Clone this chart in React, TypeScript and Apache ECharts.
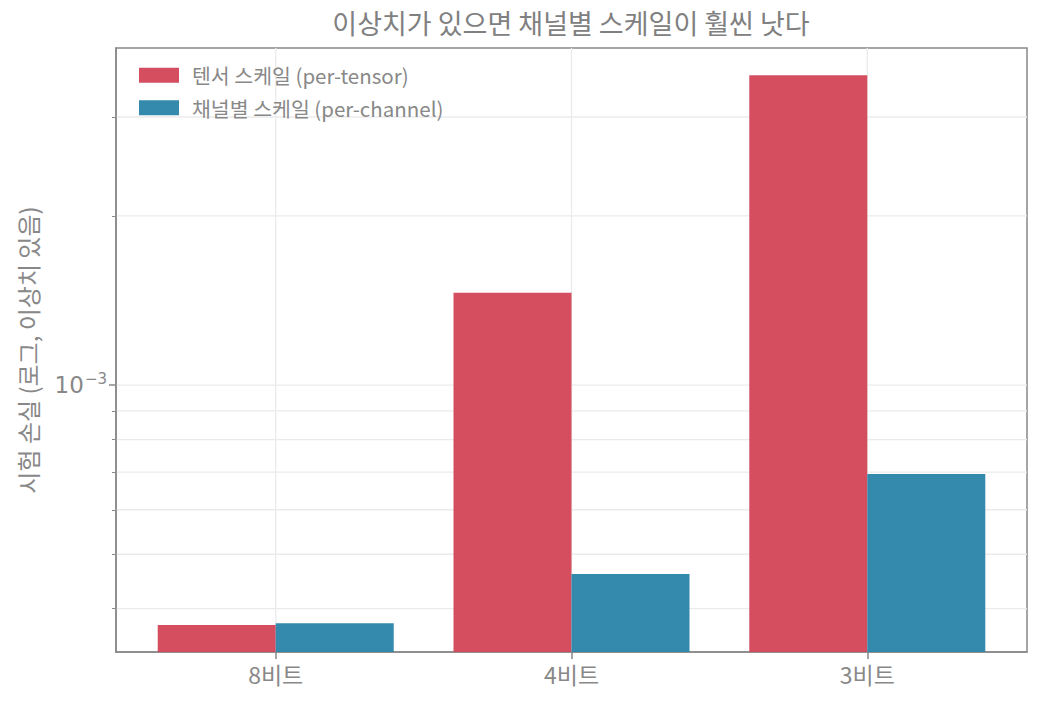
import { useEffect, useRef } from "react";
import * as echarts from "echarts";

const categories = ["8비트", "4비트", "3비트"];
const categoryPos = [0, 1, 2];
const perTensor = [3.74e-4, 1.46e-3, 3.56e-3];
const perChannel = [3.77e-4, 4.61e-4, 6.95e-4];
const seriesNames = ["텐서 스케일 (per-tensor)", "채널별 스케일 (per-channel)"];
const majorTicks = [1e-3];
const minorTicks = [4e-4, 5e-4, 6e-4, 7e-4, 8e-4, 9e-4, 2e-3, 3e-3];
const yMin = 3.35e-4;
const yMax = 3.98e-3;
const xMin = -0.54;
const xMax = 2.54;

const FONT = "'Noto Sans CJK KR', 'DejaVu Sans', sans-serif";
const GRAY = "#888888";
const GRID = "#ebebeb";

export default function App() {
  const chartRef = useRef<HTMLDivElement>(null);

  useEffect(() => {
    if (!chartRef.current) return;
    const chart = echarts.init(chartRef.current, null, { renderer: "svg" });

    const yAxisBase = {
      type: "log",
      logBase: 10,
      min: yMin,
      max: yMax,
      startValue: yMin,
      splitLine: { show: false },
      minorSplitLine: { show: false }
    };

    const option = {
      animation: false,
      textStyle: { fontFamily: FONT },
      graphic: [
        {
          type: "text",
          x: 571,
          y: 9,
          style: {
            text: "이상치가 있으면 채널별 스케일이 훨씬 낫다",
            fill: "#808080",
            fontSize: 27,
            fontFamily: FONT,
            textAlign: "center"
          }
        }
      ],
      legend: {
        left: 134,
        top: 60,
        orient: "vertical",
        icon: "rect",
        itemWidth: 40,
        itemHeight: 15,
        itemGap: 12,
        textStyle: { color: GRAY, fontSize: 20.5, fontFamily: FONT, padding: [0, 0, 0, 8] },
        data: seriesNames
      },
      grid: {
        left: 116,
        right: 15,
        top: 48,
        bottom: 54,
        show: true,
        borderColor: GRAY,
        borderWidth: 1.5,
        containLabel: false
      },
      xAxis: {
        type: "value",
        min: xMin,
        max: xMax,
        axisLine: { show: true, onZero: false, lineStyle: { color: GRAY, width: 1.5 } },
        axisTick: {
          show: true,
          length: 7,
          customValues: categoryPos,
          lineStyle: { color: GRAY, width: 1.5 }
        },
        axisLabel: {
          color: GRAY,
          fontSize: 23,
          margin: 10,
          fontFamily: FONT,
          customValues: categoryPos,
          formatter: (v: number) => categories[Math.round(v)] ?? ""
        },
        splitLine: { show: false }
      },
      yAxis: [
        {
          ...yAxisBase,
          name: "시험 손실 (로그, 이상치 있음)",
          nameLocation: "middle",
          nameGap: 77,
          nameTextStyle: { color: GRAY, fontSize: 24, fontFamily: FONT },
          axisLine: { show: true, onZero: false, lineStyle: { color: GRAY, width: 1.5 } },
          axisTick: {
            show: true,
            length: 4,
            customValues: minorTicks,
            lineStyle: { color: GRAY, width: 1 }
          },
          axisLabel: { show: false }
        },
        {
          ...yAxisBase,
          position: "left",
          axisLine: { show: false, onZero: false },
          axisTick: {
            show: true,
            length: 7,
            customValues: majorTicks,
            lineStyle: { color: GRAY, width: 1.5 }
          },
          axisLabel: {
            color: GRAY,
            customValues: majorTicks,
            margin: 9,
            formatter: () => "{b|10}{s|−3}",
            rich: {
              b: { fontSize: 23, color: GRAY, fontFamily: "'DejaVu Sans', sans-serif" },
              s: { fontSize: 15, color: GRAY, fontFamily: "'DejaVu Sans', sans-serif", padding: [0, 0, 13, 1] }
            }
          }
        }
      ],
      series: [
        {
          type: "custom",
          name: "hgrid",
          silent: true,
          z: 0,
          data: [...majorTicks, ...minorTicks].map(v => [xMin, v]),
          renderItem: (params: any, api: any) => {
            const p = api.coord([xMin, api.value(1)]);
            const cs = params.coordSys;
            return {
              type: "line",
              shape: { x1: cs.x, y1: p[1], x2: cs.x + cs.width, y2: p[1] },
              style: { stroke: GRID, lineWidth: 1.3 }
            };
          }
        },
        {
          type: "custom",
          name: "vgrid",
          silent: true,
          z: 0,
          data: categoryPos.map(c => [c, yMin]),
          renderItem: (params: any, api: any) => {
            const p = api.coord([api.value(0), yMin]);
            const cs = params.coordSys;
            return {
              type: "line",
              shape: { x1: p[0], y1: cs.y, x2: p[0], y2: cs.y + cs.height },
              style: { stroke: GRID, lineWidth: 1.3 }
            };
          }
        },
        {
          type: "bar",
          name: seriesNames[0],
          data: categoryPos.map((c, i) => [c, perTensor[i]]),
          barWidth: 118,
          barGap: "0%",
          z: 2,
          itemStyle: { color: "#d3485b", opacity: 0.97 }
        },
        {
          type: "bar",
          name: seriesNames[1],
          data: categoryPos.map((c, i) => [c, perChannel[i]]),
          barWidth: 118,
          barGap: "0%",
          z: 2,
          itemStyle: { color: "#2c86aa", opacity: 0.97 }
        }
      ]
    };

    chart.setOption(option);
    return () => chart.dispose();
  }, []);

  return <div ref={chartRef} style={{ width: 1042, height: 706, margin: -8 }} />;
}
